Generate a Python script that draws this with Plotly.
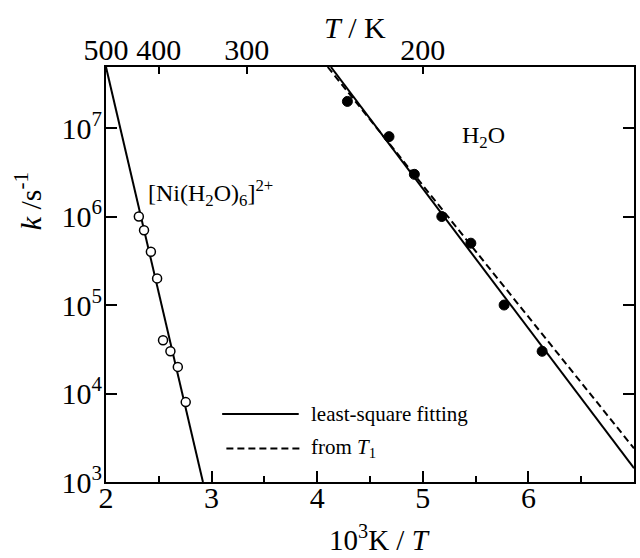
import numpy as np
import plotly.graph_objects as go

# ---- data ----
ni_x = [2.311, 2.36, 2.425, 2.484, 2.54, 2.61, 2.68, 2.755]
ni_k = [1.0e6, 7.0e5, 4.0e5, 2.0e5, 4.0e4, 3.0e4, 2.0e4, 8.0e3]

h2o_x = [4.286, 4.68, 4.92, 5.18, 5.455, 5.77, 6.13]
h2o_k = [2.0e7, 8.0e6, 3.0e6, 1.0e6, 5.0e5, 1.0e5, 3.0e4]

ni_fit_x = [2.0, 2.918]
ni_fit_k = [4.9e7, 1.0e3]

h2o_fit_x = [4.13, 7.0]
h2o_fit_k = [4.9e7, 1.43e3]

h2o_t1_x = [4.10, 7.0]
h2o_t1_k = [4.9e7, 2.4e3]

x_ticks = [2, 3, 4, 5, 6, 7]
y_ticks = [1e3, 1e4, 1e5, 1e6, 1e7]
y_ticktext = ["10<sup>3</sup>", "10<sup>4</sup>", "10<sup>5</sup>", "10<sup>6</sup>", "10<sup>7</sup>"]
top_T = [500, 400, 300, 200]

FONT = "Liberation Serif"

fig = go.Figure()

fig.add_trace(go.Scatter(x=ni_fit_x, y=ni_fit_k, mode="lines",
                         line=dict(color="black", width=2), showlegend=False))
fig.add_trace(go.Scatter(x=h2o_t1_x, y=h2o_t1_k, mode="lines",
                         line=dict(color="black", width=2, dash="7px,4px"), showlegend=False))
fig.add_trace(go.Scatter(x=h2o_fit_x, y=h2o_fit_k, mode="lines",
                         line=dict(color="black", width=2), showlegend=False))
fig.add_trace(go.Scatter(x=ni_x, y=ni_k, mode="markers",
                         marker=dict(symbol="circle", size=9, color="white",
                                     line=dict(color="black", width=1.5)),
                         showlegend=False))
fig.add_trace(go.Scatter(x=h2o_x, y=h2o_k, mode="markers",
                         marker=dict(symbol="circle", size=10, color="black",
                                     line=dict(color="black", width=1)),
                         showlegend=False))
# invisible trace to realise the top temperature axis
top_x = [1000.0 / t for t in top_T]
fig.add_trace(go.Scatter(x=top_x, y=[1e3] * len(top_T), xaxis="x2", mode="markers",
                         marker=dict(opacity=0), hoverinfo="skip", showlegend=False))

axis_common = dict(color="black", showgrid=False, zeroline=False,
                   tickfont=dict(family=FONT, size=30, color="black"))

fig.update_layout(
    width=640, height=558,
    margin=dict(l=106, r=4, t=67, b=76),
    plot_bgcolor="white", paper_bgcolor="white",
    font=dict(family=FONT, color="black"),
    xaxis=dict(range=[2, 7], tickvals=x_ticks, ticks="inside", ticklen=11, tickwidth=2,
               showline=True, linewidth=2, linecolor="black", mirror=True,
               ticklabelstandoff=-12,
               minor=dict(dtick=0.5, tick0=2, ticks="inside", ticklen=6, tickwidth=2,
                          tickcolor="black", showgrid=False),
               **axis_common),
    xaxis2=dict(range=[2, 7], overlaying="x", side="top", anchor="y",
                tickvals=top_x, ticktext=[str(t) for t in top_T],
                ticks="inside", ticklen=7, tickwidth=2, showline=False,
                **axis_common),
    yaxis=dict(type="log", range=[3, 7.69], tickvals=y_ticks, ticktext=y_ticktext,
               ticks="inside", ticklen=11, tickwidth=2, ticklabelstandoff=-4,
               showline=True, linewidth=2, linecolor="black", mirror="ticks",
               **axis_common),
)

fig.add_annotation(text="10<sup>3</sup>K / <i>T</i>", xref="paper", yref="paper",
                   x=(381 - 106) / 530, y=(482 - 558) / 415,
                   showarrow=False, xanchor="center", yanchor="bottom",
                   font=dict(family=FONT, size=29, color="black"))
fig.add_annotation(text="<i>T</i> / K", xref="paper", yref="paper",
                   x=(356 - 106) / 530, y=(482 - 28) / 415,
                   showarrow=False, xanchor="center", yanchor="middle",
                   font=dict(family=FONT, size=30, color="black"))
fig.add_annotation(text="<i>k</i> /s<sup>-1</sup>", xref="paper", yref="paper",
                   x=(28 - 106) / 530, y=(482 - 201) / 415, textangle=-90,
                   showarrow=False, xanchor="center", yanchor="middle",
                   font=dict(family=FONT, size=30, color="black"))

# series labels
fig.add_annotation(text="[Ni(H<sub>2</sub>O)<sub>6</sub>]<sup>2+</sup>", x=2.38, y=6.27,
                   xref="x", yref="y", showarrow=False, xanchor="left", yanchor="middle",
                   font=dict(family=FONT, size=24, color="black"))
fig.add_annotation(text="H<sub>2</sub>O", x=5.35, y=6.90,
                   xref="x", yref="y", showarrow=False, xanchor="left", yanchor="middle",
                   font=dict(family=FONT, size=24, color="black"))

# legend keys
fig.add_shape(type="line", xref="paper", yref="paper", x0=0.220, x1=0.365, y0=0.164, y1=0.164,
              line=dict(color="black", width=2))
fig.add_shape(type="line", xref="paper", yref="paper", x0=0.228, x1=0.369, y0=0.081, y1=0.081,
              line=dict(color="black", width=2, dash="7px,4px"))
fig.add_annotation(text="least-square fitting", xref="paper", yref="paper", x=0.385, y=0.164,
                   showarrow=False, xanchor="left", yanchor="middle",
                   font=dict(family=FONT, size=21, color="black"))
fig.add_annotation(text="from <i>T</i><sub>1</sub>", xref="paper", yref="paper", x=0.385, y=0.081,
                   showarrow=False, xanchor="left", yanchor="middle",
                   font=dict(family=FONT, size=21, color="black"))

fig.write_html("out.html")
